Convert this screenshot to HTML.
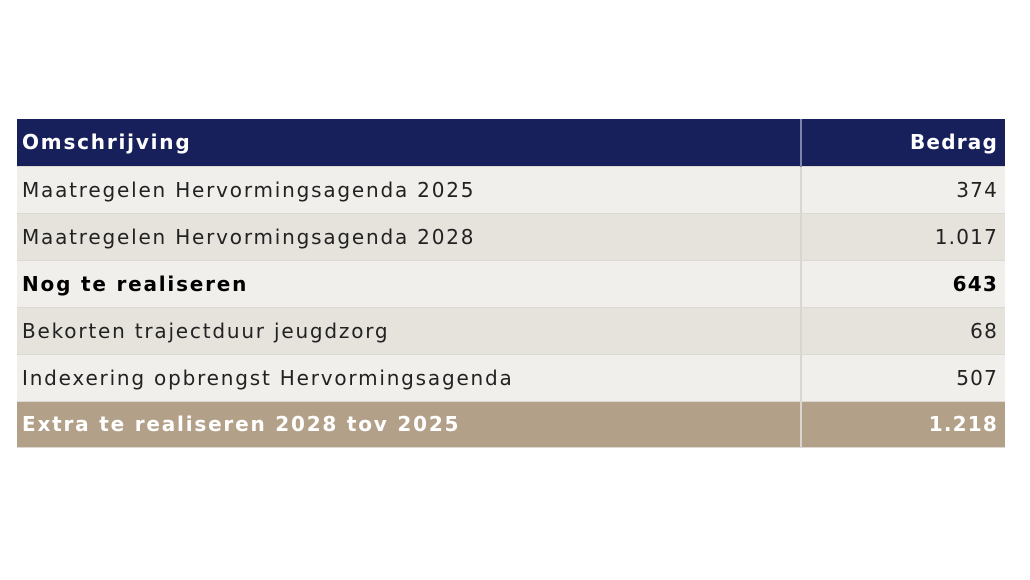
<!DOCTYPE html>
<html><head><meta charset="utf-8"><style>
body{margin:0;width:1030px;height:580px;background:#fff;position:relative;overflow:hidden;font-family:"DejaVu Sans","Liberation Sans",sans-serif;}
table{position:absolute;left:17px;top:119px;width:988px;border-collapse:collapse;font-size:20px;letter-spacing:1.8px;color:#222;}
td,th{padding:0 7px 0 5px;height:47px;box-sizing:border-box;border-right:2px solid #d9d6d0;border-bottom:1px solid #dcd8d2;}
td:last-child,th:last-child{border-right:none;text-align:right;width:204px;letter-spacing:1.2px;}
th{background:#17205a;color:#fff;text-align:left;font-weight:bold;border-right-color:#7d84a8;}
tr.a td{background:#f0efeb;}
tr.b td{background:#e6e2dc;}
tr.t td{background:#b3a089;color:#fff;font-weight:bold;height:46px;}
.bold td{font-weight:bold;color:#000;}
</style></head><body>
<table>
<tr><th>Omschrijving</th><th>Bedrag</th></tr>
<tr class="a"><td>Maatregelen Hervormingsagenda 2025</td><td>374</td></tr>
<tr class="b"><td>Maatregelen Hervormingsagenda 2028</td><td>1.017</td></tr>
<tr class="a bold"><td>Nog te realiseren</td><td>643</td></tr>
<tr class="b"><td>Bekorten trajectduur jeugdzorg</td><td>68</td></tr>
<tr class="a"><td>Indexering opbrengst Hervormingsagenda</td><td>507</td></tr>
<tr class="t"><td>Extra te realiseren 2028 tov 2025</td><td>1.218</td></tr>
</table>
</body></html>
